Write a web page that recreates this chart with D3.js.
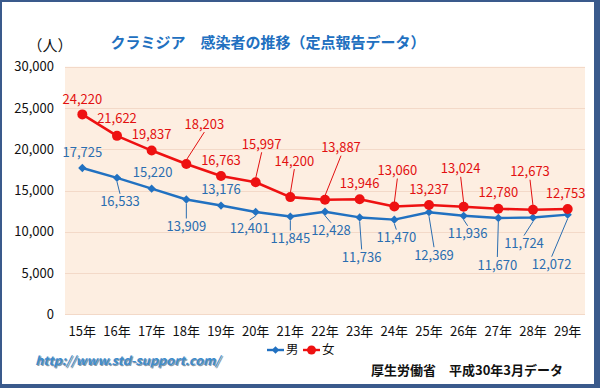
<!DOCTYPE html>
<html>
<head>
<meta charset="utf-8">
<script src="https://cdn.jsdelivr.net/npm/d3@7"></script>
<style>
  body { margin: 0; background: #fff; }
  svg { display: block; }
  text { font-family: "Noto Sans CJK JP", "Noto Sans", sans-serif; }
</style>
</head>
<body>
<div id="chart"></div>
<script>
// data
const years = ["15年", "16年", "17年", "18年", "19年", "20年", "21年", "22年",
  "23年", "24年", "25年", "26年", "27年", "28年", "29年"];
const male = [17725, 16533, 15220, 13909, 13176, 12401, 11845, 12428,
  11736, 11470, 12369, 11936, 11670, 11724, 12072];
const female = [24220, 21622, 19837, 18203, 16763, 15997, 14200, 13887,
  13946, 13060, 13237, 13024, 12780, 12673, 12753];
const yTicks = [0, 5000, 10000, 15000, 20000, 25000, 30000];

// label placement: [dx, dy, leader line?] relative to the point
const femaleLabelPos = [[0, -15, 0], [0, -17, 0], [0, -16, 0], [18, -40, 1], [0, -15, 0],
  [6, -38, 1], [4, -36, 1], [16, -52, 1], [0, -16, 0], [3, -36, 1],
  [0, -16, 0], [-3, -38, 1], [0, -16, 0], [-3, -38, 1], [-2, -16, 0]];
const maleLabelPos = [[0, -16, 0], [3, 24, 1], [1, -16, 0], [0, 27, 1], [0, -16, 0],
  [-6, 16, 1], [0, 22, 1], [6, 19, 1], [2, 40, 1], [2, 18, 1],
  [5, 43, 1], [4, 18, 1], [-1, 47, 1], [-9, 26, 1], [-16, 50, 1]];

const width = 600;
const height = 388;

const svg = d3.select("#chart").append("svg")
  .attr("width", width)
  .attr("height", height);

// frame
svg.append("rect").attr("width", width).attr("height", height).attr("fill", "#3a5a8c");
svg.append("rect").attr("x", 2).attr("y", 2).attr("width", 592).attr("height", 382).attr("fill", "#fff");

const x = d3.scaleBand().domain(years).range([65, 585]);
const cx = d => x(d) + x.bandwidth() / 2;
const y = d3.scaleLinear().domain([0, 30000]).range([314.3, 66.7]);

// plot background
svg.append("rect")
  .attr("x", 65).attr("y", y(30000))
  .attr("width", 520).attr("height", y(0) - y(30000))
  .attr("fill", "#fdeee1");

svg.append("g")
  .selectAll("line")
  .data(yTicks)
  .join("line")
  .attr("x1", 65).attr("x2", 585)
  .attr("y1", d => Math.round(y(d)) + 0.5)
  .attr("y2", d => Math.round(y(d)) + 0.5)
  .attr("stroke", "#f3d9c8")
  .attr("stroke-width", 1);

// y axis labels
svg.append("g")
  .selectAll("text")
  .data(yTicks)
  .join("text")
  .attr("x", 54)
  .attr("y", d => y(d))
  .attr("dy", "0.35em")
  .attr("text-anchor", "end")
  .attr("font-size", 13)
  .attr("fill", "#111")
  .text(d => d3.format(",")(d));

// x axis labels
svg.append("g")
  .selectAll("text")
  .data(years)
  .join("text")
  .attr("x", d => cx(d))
  .attr("y", 331)
  .attr("dy", "0.35em")
  .attr("text-anchor", "middle")
  .attr("font-size", 13)
  .attr("fill", "#111")
  .text(d => d);

// titles
svg.append("text")
  .attr("x", 268).attr("y", 43).attr("dy", "0.35em")
  .attr("text-anchor", "middle")
  .attr("font-size", 15).attr("font-weight", "bold")
  .attr("fill", "#2170c0")
  .text("クラミジア　感染者の推移（定点報告データ）");

svg.append("text")
  .attr("x", 50).attr("y", 46).attr("dy", "0.35em")
  .attr("text-anchor", "middle")
  .attr("font-size", 15)
  .attr("fill", "#111")
  .text("（人）");

function drawSeries(values, color, labelColor, labelPos, marker) {
  const line = d3.line().x((d, i) => cx(years[i])).y(d => y(d));
  svg.append("path")
    .datum(values)
    .attr("fill", "none")
    .attr("stroke", color)
    .attr("stroke-width", marker == "circle" ? 2.6 : 2.4)
    .attr("stroke-linejoin", "round")
    .attr("d", line);

  const g = svg.append("g");
  values.forEach((v, i) => {
    const px = cx(years[i]), py = y(v);
    if (marker == "circle") {
      g.append("circle").attr("cx", px).attr("cy", py).attr("r", 5).attr("fill", color);
    } else {
      g.append("path")
        .attr("d", d3.symbol(d3.symbolDiamond2, 44)())
        .attr("transform", `translate(${px},${py})`)
        .attr("fill", color);
    }
  });

  // leader lines + labels
  values.forEach((v, i) => {
    const px = cx(years[i]), py = y(v);
    const [dx, dy, leader] = labelPos[i];
    const lx = px + dx, ly = py + dy;
    if (leader) {
      const dir = dy < 0 ? -1 : 1;
      svg.append("line")
        .attr("x1", px).attr("y1", py + dir * 4)
        .attr("x2", lx).attr("y2", ly - dir * 8)
        .attr("stroke", labelColor)
        .attr("stroke-width", 1);
    }
    svg.append("text")
      .attr("x", lx).attr("y", ly).attr("dy", "0.35em")
      .attr("text-anchor", "middle")
      .attr("font-size", 13)
      .attr("fill", labelColor)
      .text(d3.format(",")(v));
  });
}

drawSeries(male, "#2171c1", "#2a6db0", maleLabelPos, "diamond");
drawSeries(female, "#ee1111", "#e21010", femaleLabelPos, "circle");

// legend
const ly = 350;
const legend = svg.append("g");
legend.append("line").attr("x1", 267).attr("x2", 284).attr("y1", ly).attr("y2", ly)
  .attr("stroke", "#2171c1").attr("stroke-width", 2.4);
legend.append("path").attr("d", d3.symbol(d3.symbolDiamond2, 36)())
  .attr("transform", `translate(275.5,${ly})`).attr("fill", "#2171c1");
legend.append("text").attr("x", 286).attr("y", ly).attr("dy", "0.35em")
  .attr("font-size", 12.5).attr("fill", "#111").text("男");
legend.append("line").attr("x1", 303).attr("x2", 320).attr("y1", ly).attr("y2", ly)
  .attr("stroke", "#ee1111").attr("stroke-width", 2.4);
legend.append("circle").attr("cx", 311.5).attr("cy", ly).attr("r", 4.5).attr("fill", "#ee1111");
legend.append("text").attr("x", 322).attr("y", ly).attr("dy", "0.35em")
  .attr("font-size", 12.5).attr("fill", "#111").text("女");

// url with shadow
const url = "http://www.std-support.com/";
svg.append("text")
  .attr("x", 36.2).attr("y", 362.2).attr("dy", "0.35em")
  .attr("font-family", "DejaVu Sans").attr("font-size", 12)
  .attr("font-weight", "bold").attr("font-style", "italic")
  .attr("textLength", 185).attr("lengthAdjust", "spacingAndGlyphs")
  .attr("fill", "#8a9aa8").text(url);
svg.append("text")
  .attr("x", 35).attr("y", 361).attr("dy", "0.35em")
  .attr("font-family", "DejaVu Sans").attr("font-size", 12)
  .attr("font-weight", "bold").attr("font-style", "italic")
  .attr("textLength", 185).attr("lengthAdjust", "spacingAndGlyphs")
  .attr("fill", "#3f8ccc").text(url);

svg.append("text")
  .attr("x", 563).attr("y", 370).attr("dy", "0.35em")
  .attr("text-anchor", "end")
  .attr("font-size", 13).attr("font-weight", "bold")
  .attr("fill", "#111")
  .text("厚生労働省　平成30年3月データ");
</script>
</body>
</html>
